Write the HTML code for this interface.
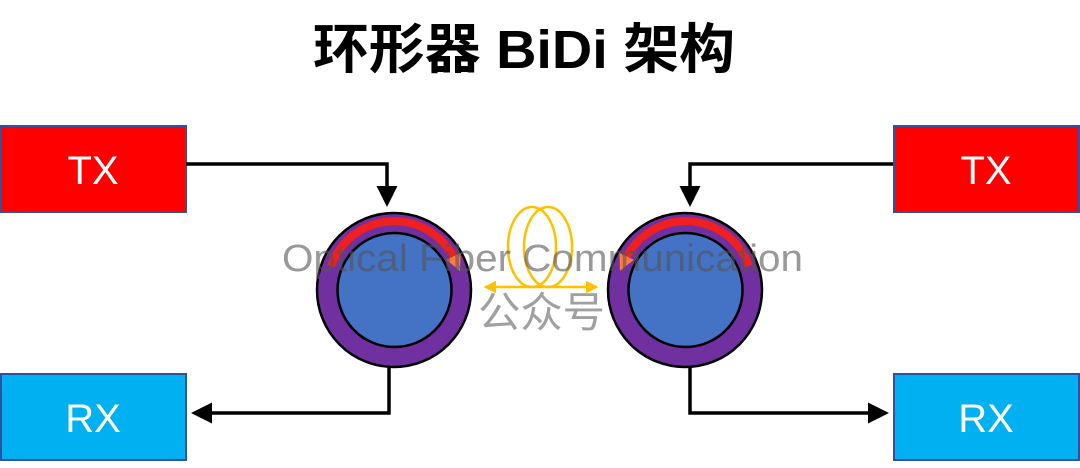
<!DOCTYPE html>
<html><head><meta charset="utf-8"><style>
body{margin:0;background:#fff;width:1080px;height:463px;overflow:hidden}
</style></head><body>
<svg width="1080" height="463" xmlns="http://www.w3.org/2000/svg">
<defs>
<marker id="ah" markerWidth="6" markerHeight="6" refX="4" refY="3" orient="auto" markerUnits="strokeWidth"><path d="M0,0 L6,3 L0,6 Z" fill="#000"/></marker>
<marker id="ya" markerWidth="5" markerHeight="5" refX="4" refY="2.5" orient="auto" markerUnits="strokeWidth"><path d="M0,0 L5,2.5 L0,5 Z" fill="#ffc000"/></marker>
<marker id="ra" markerWidth="2" markerHeight="2" refX="0.5" refY="1" orient="auto" markerUnits="strokeWidth"><path d="M0,0 L2,1 L0,2 Z" fill="#ff7a40"/></marker>
</defs>
<text x="524" y="68" text-anchor="middle" textLength="422" lengthAdjust="spacingAndGlyphs" font-family="'Liberation Sans','Noto Sans CJK SC',sans-serif" font-weight="bold" font-size="54">环形器 BiDi 架构</text>
<rect x="1" y="126" width="185" height="86" fill="#ff0000" stroke="#2f52a0" stroke-width="2"/>
<text x="93" y="184" text-anchor="middle" fill="#fff" font-family="'Liberation Sans',sans-serif" font-size="40">TX</text>
<rect x="894" y="126" width="185" height="86" fill="#ff0000" stroke="#2f52a0" stroke-width="2"/>
<text x="986" y="184" text-anchor="middle" fill="#fff" font-family="'Liberation Sans',sans-serif" font-size="40">TX</text>
<rect x="1" y="374" width="185" height="86" fill="#00b0f0" stroke="#2f52a0" stroke-width="2"/>
<text x="93" y="432" text-anchor="middle" fill="#fff" font-family="'Liberation Sans',sans-serif" font-size="40">RX</text>
<rect x="894" y="374" width="185" height="86" fill="#00b0f0" stroke="#2f52a0" stroke-width="2"/>
<text x="986" y="432" text-anchor="middle" fill="#fff" font-family="'Liberation Sans',sans-serif" font-size="40">RX</text>
<g fill="none" stroke="#000" stroke-width="3.5">
<path d="M186 164 H387 V200" marker-end="url(#ah)"/>
<path d="M893 164 H690 V200" marker-end="url(#ah)"/>
<path d="M389 367 V413 H198" marker-end="url(#ah)"/>
<path d="M690 367 V413 H882" marker-end="url(#ah)"/>
</g>
<circle cx="394" cy="290" r="77" fill="#7030a0" stroke="#000" stroke-width="2.5"/>
<circle cx="394.5" cy="290" r="57" fill="#4472c4" stroke="#000" stroke-width="2.5"/>
<circle cx="685" cy="290" r="77" fill="#7030a0" stroke="#000" stroke-width="2.5"/>
<circle cx="685.5" cy="290" r="57" fill="#4472c4" stroke="#000" stroke-width="2.5"/>
<path d="M331 266 A67 67 0 0 1 455 260" fill="none" stroke="#f02020" stroke-width="8" marker-end="url(#ra)"/>
<path d="M749 266 A67 67 0 0 0 625 260" fill="none" stroke="#f02020" stroke-width="8" marker-end="url(#ra)"/>
<g fill="none" stroke="#ffc000" stroke-width="2.5">
<ellipse cx="532" cy="247" rx="24" ry="40"/>
<ellipse cx="548" cy="247" rx="24" ry="40"/>
<path d="M540 287 H486" marker-end="url(#ya)"/>
<path d="M540 287 H596" marker-end="url(#ya)"/>
</g>
<text x="282" y="271" textLength="521" lengthAdjust="spacingAndGlyphs" fill="#555" fill-opacity="0.6" font-family="'Liberation Sans',sans-serif" font-size="38">Optical Fiber Communication</text>
<text x="478" y="327" textLength="127" lengthAdjust="spacingAndGlyphs" fill="#888" fill-opacity="0.8" font-family="'Noto Sans CJK SC',sans-serif" font-size="42">公众号</text>
</svg>
</body></html>
